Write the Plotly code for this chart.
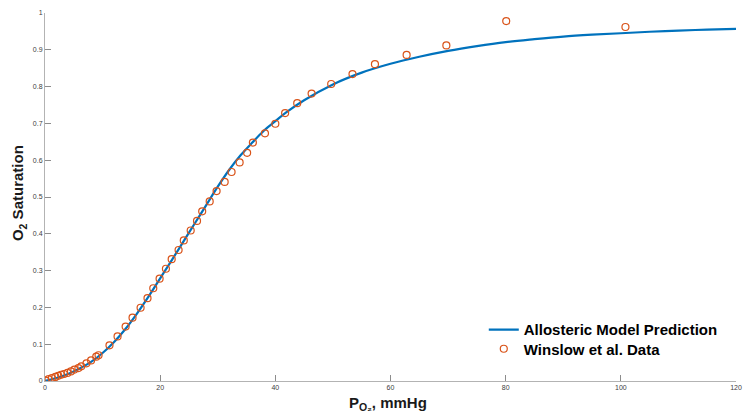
import plotly.graph_objects as go

# Allosteric model prediction
model_x = [0, 2, 4, 6, 8, 10, 12, 14, 16, 18, 20, 22, 24, 26, 28, 30, 32, 34, 36, 38, 40,
           42, 45, 50, 55, 60, 65, 70, 75, 80, 85, 90, 95, 100, 105, 110, 115, 120]
model_y = [0.0, 0.008, 0.019, 0.034, 0.052, 0.076, 0.106, 0.142, 0.184, 0.230, 0.279,
           0.328, 0.378, 0.428, 0.478, 0.528, 0.574, 0.614, 0.648, 0.680, 0.706,
           0.731, 0.763, 0.806, 0.838, 0.862, 0.881, 0.897, 0.910, 0.921, 0.929,
           0.936, 0.941, 0.945, 0.949, 0.952, 0.955, 0.957]

# Winslow et al. data
data_x = [0.1, 0.6, 1.2, 1.8, 2.3, 2.8, 3.3, 3.9, 4.5, 5.1, 5.8, 6.3, 7.2, 8.0, 8.9, 9.3,
          11.2, 12.6, 14.0, 15.2, 16.6, 17.8, 18.8, 19.9, 21.0, 22.0, 23.2, 24.1, 25.3,
          26.4, 27.3, 28.6, 29.8, 31.2, 32.4, 33.8, 35.1, 36.1, 38.2, 40.0, 41.7, 43.8,
          46.3, 49.7, 53.4, 57.3, 62.8, 69.7, 80.1, 100.8]
data_y = [0.001, 0.005, 0.008, 0.011, 0.014, 0.017, 0.019, 0.022, 0.026, 0.031, 0.035,
          0.040, 0.048, 0.056, 0.066, 0.070, 0.097, 0.121, 0.148, 0.172, 0.199, 0.225,
          0.252, 0.278, 0.305, 0.331, 0.356, 0.382, 0.409, 0.435, 0.461, 0.488, 0.516,
          0.541, 0.568, 0.594, 0.620, 0.648, 0.673, 0.699, 0.728, 0.755, 0.781, 0.807,
          0.834, 0.861, 0.886, 0.912, 0.978, 0.962]

x_ticks = [0, 20, 40, 60, 80, 100, 120]
y_ticks = [0, 0.1, 0.2, 0.3, 0.4, 0.5, 0.6, 0.7, 0.8, 0.9, 1]
y_tick_labels = ["0", "0.1", "0.2", "0.3", "0.4", "0.5", "0.6", "0.7", "0.8", "0.9", "1"]

fig = go.Figure()
fig.add_trace(go.Scatter(
    x=model_x, y=model_y, mode="lines", line_shape="spline",
    line=dict(color="#0072BD", width=2.2),
    name="Allosteric Model Prediction", legend="legend"))
fig.add_trace(go.Scatter(
    x=data_x, y=data_y, mode="markers",
    marker=dict(symbol="circle-open", size=7, color="#D95319", line=dict(width=1.2)),
    name="Winslow et al. Data", legend="legend2"))

axis_common = dict(
    showgrid=False, zeroline=False, showline=True, linecolor="#b3b3b3", linewidth=1,
    ticks="inside", ticklen=6, tickcolor="#8c8c8c", tickwidth=1, automargin=False,
    tickfont=dict(family="Liberation Sans, Arial", size=7, color="#404040"),
)

legend_common = dict(
    xanchor="left", yanchor="middle", bgcolor="rgba(0,0,0,0)", itemwidth=30,
    font=dict(size=15, color="black", family="Liberation Sans, Arial", weight="bold"),
)

fig.update_layout(
    width=743, height=416,
    margin=dict(l=45, r=7, t=13, b=35, autoexpand=False),
    plot_bgcolor="white", paper_bgcolor="white",
    font=dict(family="Liberation Sans, Arial"),
    xaxis=dict(range=[0, 120], tickvals=x_ticks, **axis_common),
    yaxis=dict(range=[0, 1], tickvals=y_ticks, ticktext=y_tick_labels, **axis_common),
    legend=dict(x=0.635, y=0.139, **legend_common),
    legend2=dict(x=0.635, y=0.087, **legend_common),
    showlegend=True,
    annotations=[
        dict(text="<b>P<sub>O₂</sub>, mmHg</b>", xref="paper", yref="paper",
             x=0.497, y=-0.03, xanchor="center", yanchor="top", showarrow=False,
             font=dict(size=15, color="#1a1a1a", family="Liberation Sans, Arial")),
        dict(text="<b>O<sub>2</sub> Saturation</b>", xref="paper", yref="paper",
             x=-0.038, y=0.51, xanchor="center", yanchor="middle", showarrow=False,
             textangle=-90,
             font=dict(size=15, color="#1a1a1a", family="Liberation Sans, Arial")),
    ],
)

fig.write_html("out.html",
               config={"displayModeBar": False},
               post_script="document.body.style.margin='0';document.body.style.overflow='hidden';")
